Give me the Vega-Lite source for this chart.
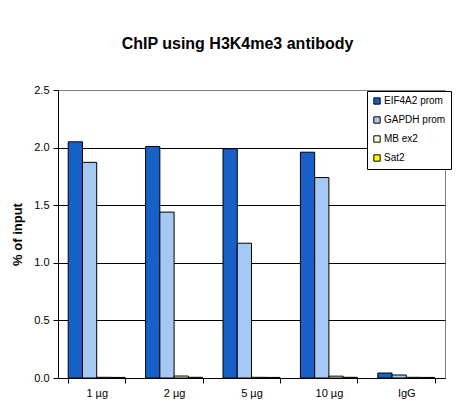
{
  "$schema": "https://vega.github.io/schema/vega-lite/v6.json",
  "width": 387,
  "height": 288,
  "autosize": {"type": "none"},
  "padding": {"left": 58, "top": 90, "right": 19, "bottom": 40},
  "background": "white",
  "config": {
    "font": "Liberation Sans",
    "view": {"stroke": "#808080", "strokeWidth": 1}
  },
  "title": {
    "text": "ChIP using H3K4me3 antibody",
    "font": "Liberation Sans",
    "fontSize": 16,
    "fontWeight": "bold",
    "color": "black",
    "anchor": "middle",
    "dx": -14,
    "baseline": "alphabetic",
    "offset": 19
  },
  "data": {
    "values": [
      {"group": "1 µg", "series": "EIF4A2 prom", "value": 2.05},
      {"group": "1 µg", "series": "GAPDH prom", "value": 1.872},
      {"group": "1 µg", "series": "MB ex2", "value": 0.006},
      {"group": "1 µg", "series": "Sat2", "value": 0.005},
      {"group": "2 µg", "series": "EIF4A2 prom", "value": 2.01},
      {"group": "2 µg", "series": "GAPDH prom", "value": 1.44},
      {"group": "2 µg", "series": "MB ex2", "value": 0.017},
      {"group": "2 µg", "series": "Sat2", "value": 0.006},
      {"group": "5 µg", "series": "EIF4A2 prom", "value": 1.99},
      {"group": "5 µg", "series": "GAPDH prom", "value": 1.17},
      {"group": "5 µg", "series": "MB ex2", "value": 0.006},
      {"group": "5 µg", "series": "Sat2", "value": 0.005},
      {"group": "10 µg", "series": "EIF4A2 prom", "value": 1.96},
      {"group": "10 µg", "series": "GAPDH prom", "value": 1.74},
      {"group": "10 µg", "series": "MB ex2", "value": 0.016},
      {"group": "10 µg", "series": "Sat2", "value": 0.006},
      {"group": "IgG", "series": "EIF4A2 prom", "value": 0.043},
      {"group": "IgG", "series": "GAPDH prom", "value": 0.026},
      {"group": "IgG", "series": "MB ex2", "value": 0.006},
      {"group": "IgG", "series": "Sat2", "value": 0.005}
    ]
  },
  "mark": {"type": "bar", "stroke": "black", "strokeWidth": 1},
  "encoding": {
    "x": {
      "field": "group",
      "type": "nominal",
      "sort": ["1 µg", "2 µg", "5 µg", "10 µg", "IgG"],
      "scale": {"paddingInner": 0.264, "paddingOuter": 0.132},
      "axis": {
        "title": null,
        "labelAngle": 0,
        "labelFont": "Liberation Sans",
        "labelFontSize": 11,
        "labelColor": "black",
        "labelPadding": 4,
        "tickBand": "extent",
        "tickColor": "black",
        "tickSize": 5,
        "domainColor": "black",
        "grid": false
      }
    },
    "xOffset": {
      "field": "series",
      "type": "nominal",
      "sort": ["EIF4A2 prom", "GAPDH prom", "MB ex2", "Sat2"],
      "scale": {"paddingInner": 0, "paddingOuter": 0}
    },
    "y": {
      "field": "value",
      "type": "quantitative",
      "scale": {"domain": [0, 2.5], "nice": false},
      "axis": {
        "title": "% of input",
        "titleFont": "Liberation Sans",
        "titleFontSize": 13,
        "titleFontWeight": "bold",
        "titleColor": "black",
        "titlePadding": 9,
        "values": [0, 0.5, 1, 1.5, 2, 2.5],
        "format": ".1f",
        "labelFont": "Liberation Sans",
        "labelFontSize": 11,
        "labelColor": "black",
        "labelPadding": 4,
        "tickColor": "black",
        "tickSize": 5,
        "domainColor": "black",
        "grid": true,
        "gridColor": {"condition": {"test": "datum.value >= 2.5", "value": "#808080"}, "value": "black"},
        "gridOpacity": 1
      }
    },
    "color": {
      "field": "series",
      "type": "nominal",
      "sort": ["EIF4A2 prom", "GAPDH prom", "MB ex2", "Sat2"],
      "scale": {
        "domain": ["EIF4A2 prom", "GAPDH prom", "MB ex2", "Sat2"],
        "range": ["#1660C8", "#A6C8F5", "#FFFFCC", "#FFFF00"]
      },
      "legend": {
        "title": null,
        "orient": "none",
        "legendX": 309,
        "legendY": 1,
        "direction": "vertical",
        "fillColor": "white",
        "strokeColor": "black",
        "padding": 5,
        "symbolType": "square",
        "symbolSize": 40,
        "symbolStrokeColor": "black",
        "symbolStrokeWidth": 1,
        "symbolOpacity": 1,
        "labelFont": "Liberation Sans",
        "labelFontSize": 10,
        "labelColor": "black",
        "labelOffset": 2,
        "rowPadding": 7,
        "labelLimit": 100
      }
    }
  }
}
